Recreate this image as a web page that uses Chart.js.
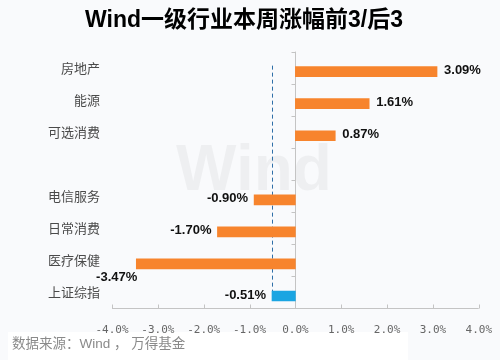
<!DOCTYPE html>
<html>
<head>
<meta charset="utf-8">
<script src="https://cdn.jsdelivr.net/npm/chart.js@4"></script>
<style>
    html, body { margin: 0; padding: 0; background: #f9fafc; }
    #wrap { width: 500px; height: 360px; position: relative; }
</style>
</head>
<body>
<div id="wrap"><canvas id="industryChart" width="500" height="360"></canvas></div>
<script>
// 数据
const categories = ['房地产', '能源', '可选消费', '', '电信服务', '日常消费', '医疗保健', '上证综指'];
const weeklyChange = [3.09, 1.61, 0.87, null, -0.90, -1.70, -3.47, -0.51];
const benchmarkName = '上证综指';
const axisMin = -4;
const axisMax = 4;

const ORANGE = '#f7842d';
const BLUE = '#1aa5e2';
const CJK = '"Noto Sans CJK SC", sans-serif';
const LATIN = '"Liberation Sans", Arial, "Noto Sans CJK SC", sans-serif';
const BAR_SHIFT = 4; // 原图柱子比分类标签略低

const benchmarkIndex = categories.indexOf(benchmarkName);

// 背景 + 水印
const backgroundPlugin = {
    id: 'background',
    beforeDraw(chart) {
        const ctx = chart.ctx;
        ctx.save();
        ctx.fillStyle = '#f9fafc';
        ctx.fillRect(0, 0, chart.width, chart.height);
        ctx.fillStyle = '#ffffff';
        ctx.fillRect(8, 332, 400, 28);
        ctx.restore();
    },
    beforeDatasetsDraw(chart) {
        const ctx = chart.ctx;
        ctx.save();
        ctx.fillStyle = 'rgba(0, 0, 0, 0.045)';
        ctx.font = 'bold 64px "Liberation Sans", Arial, sans-serif';
        ctx.textAlign = 'center';
        ctx.textBaseline = 'middle';
        ctx.fillText('Wind', 254, 172);
        ctx.restore();
    }
};

// 零轴、底部坐标轴、参考虚线
const axesPlugin = {
    id: 'axesDecor',
    beforeDatasetsDraw(chart) {
        const ctx = chart.ctx;
        const area = chart.chartArea;
        const x = chart.scales.x;
        const y = chart.scales.y;
        const zeroX = Math.round(x.getPixelForValue(0)) + 0.5;
        const band = (area.bottom - area.top) / categories.length;

        ctx.save();
        ctx.strokeStyle = '#c4c4c4';
        ctx.lineWidth = 1;

        // 零轴
        ctx.beginPath();
        ctx.moveTo(zeroX, area.top);
        ctx.lineTo(zeroX, area.bottom);
        for (let i = 0; i <= categories.length - 1; i++) {
            const ty = Math.round(area.top + band * i) + 0.5;
            ctx.moveTo(zeroX - 4, ty);
            ctx.lineTo(zeroX, ty);
        }
        ctx.stroke();

        // 底部坐标轴
        const by = Math.round(area.bottom) + 0.5;
        ctx.beginPath();
        ctx.moveTo(area.left, by);
        ctx.lineTo(area.right, by);
        for (let v = axisMin; v <= axisMax; v++) {
            const tx = Math.round(x.getPixelForValue(v)) + 0.5;
            ctx.moveTo(tx, by - 4);
            ctx.lineTo(tx, by);
        }
        ctx.stroke();

        // 上证综指参考虚线
        const benchValue = weeklyChange[benchmarkIndex];
        const dx = Math.round(x.getPixelForValue(benchValue)) + 0.5;
        ctx.strokeStyle = '#2f6fa8';
        ctx.setLineDash([4, 3]);
        ctx.beginPath();
        ctx.moveTo(dx, y.getPixelForValue(0) - 2);
        ctx.lineTo(dx, y.getPixelForValue(benchmarkIndex) + BAR_SHIFT - 5);
        ctx.stroke();
        ctx.restore();
    }
};

// 柱子整体下移
const barShiftPlugin = {
    id: 'barShift',
    beforeDatasetDraw(chart) {
        chart.ctx.save();
        chart.ctx.translate(0, BAR_SHIFT);
    },
    afterDatasetDraw(chart) {
        chart.ctx.restore();
    }
};

// 数值标签
const valueLabelPlugin = {
    id: 'valueLabels',
    afterDatasetsDraw(chart) {
        const ctx = chart.ctx;
        const area = chart.chartArea;
        const meta = chart.getDatasetMeta(0);
        ctx.save();
        ctx.font = 'bold 13px ' + LATIN;
        ctx.fillStyle = '#111';
        ctx.textBaseline = 'middle';
        meta.data.forEach((bar, i) => {
            const v = weeklyChange[i];
            if (v === null) return;
            const text = v.toFixed(2) + '%';
            const w = ctx.measureText(text).width;
            const cy = bar.y + BAR_SHIFT - 1;
            if (v >= 0) {
                ctx.textAlign = 'left';
                ctx.fillText(text, bar.x + 7, cy);
            } else if (bar.x - 6 - w < area.left) {
                ctx.textAlign = 'right';
                ctx.fillText(text, bar.x + 1, cy + 14);
            } else {
                ctx.textAlign = 'right';
                ctx.fillText(text, bar.x - 6, cy);
            }
        });
        ctx.restore();
    }
};

// 数据来源
const footerPlugin = {
    id: 'sourceFooter',
    afterDraw(chart) {
        const ctx = chart.ctx;
        ctx.save();
        ctx.font = '13.5px ' + LATIN;
        ctx.fillStyle = '#8a8a8a';
        ctx.textAlign = 'left';
        ctx.textBaseline = 'middle';
        ctx.fillText('数据来源：Wind ， 万得基金', 12, 344);
        ctx.restore();
    }
};

new Chart(document.getElementById('industryChart'), {
    type: 'bar',
    data: {
        labels: categories,
        datasets: [{
            label: 'Wind一级行业本周涨幅',
            data: weeklyChange,
            backgroundColor: categories.map(c => c === benchmarkName ? BLUE : ORANGE),
            barThickness: 10,
            borderWidth: 0,
        }]
    },
    options: {
        indexAxis: 'y',
        responsive: false,
        animation: false,
        layout: { padding: { left: 4, right: 16, top: 0, bottom: 0 } },
        scales: {
            x: {
                min: axisMin,
                max: axisMax,
                grid: { display: false },
                border: { display: false },
                ticks: {
                    stepSize: 1,
                    color: '#666',
                    padding: 8,
                    font: { family: '"DejaVu Sans Mono", monospace', size: 11 },
                    callback: v => v.toFixed(1) + '%',
                },
                afterFit(scale) { scale.height = 52; },
            },
            y: {
                grid: { display: false, drawTicks: false },
                border: { display: false },
                ticks: {
                    color: '#4a4a4a',
                    padding: 12,
                    autoSkip: false,
                    font: { family: CJK, size: 13 },
                },
                afterFit(scale) { scale.width = 108; },
            }
        },
        plugins: {
            legend: { display: false },
            tooltip: { enabled: false },
            title: {
                display: true,
                text: 'Wind一级行业本周涨幅前3/后3',
                color: '#000',
                font: { family: LATIN, size: 23, weight: 'bold' },
                padding: { top: 7, bottom: 17 },
            },
        },
    },
    plugins: [backgroundPlugin, axesPlugin, barShiftPlugin, valueLabelPlugin, footerPlugin],
});
</script>
</body>
</html>
